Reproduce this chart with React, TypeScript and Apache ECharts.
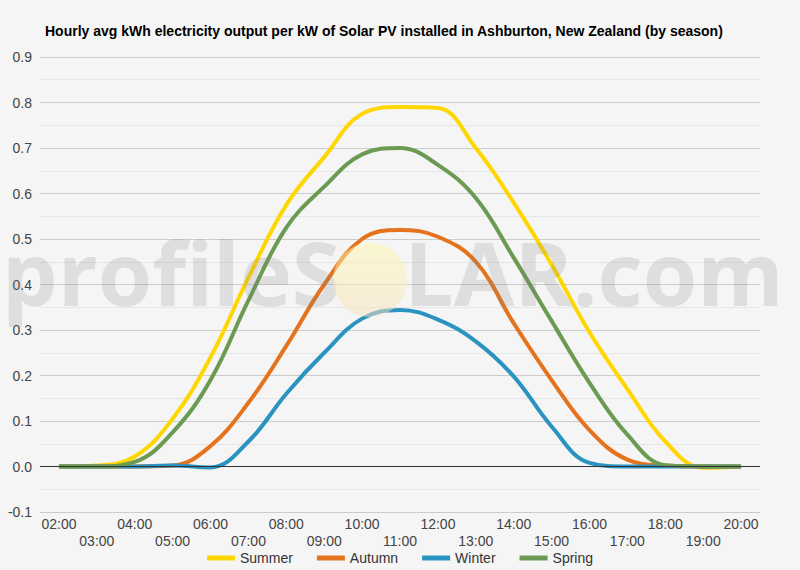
import React, { useEffect, useRef } from 'react'
import * as echarts from 'echarts'

const hours = [
  '02:00', '03:00', '04:00', '05:00', '06:00', '07:00', '08:00', '09:00', '10:00', '11:00',
  '12:00', '13:00', '14:00', '15:00', '16:00', '17:00', '18:00', '19:00', '20:00'
]

const seasonNames = ['Summer', 'Autumn', 'Winter', 'Spring']

const summer = [0, 0.002, 0.022, 0.105, 0.24, 0.415, 0.575, 0.68, 0.775, 0.79, 0.788, 0.7, 0.58, 0.444, 0.295, 0.17, 0.055, -0.003, 0]
const autumn = [0, 0, 0, 0.002, 0.045, 0.14, 0.265, 0.4, 0.5, 0.52, 0.505, 0.45, 0.315, 0.19, 0.08, 0.015, 0.002, 0, 0]
const winter = [0, 0, 0, 0.002, -0.002, 0.055, 0.16, 0.25, 0.325, 0.344, 0.323, 0.275, 0.198, 0.088, 0.008, 0, 0, 0, 0]
const spring = [0, 0, 0.01, 0.075, 0.19, 0.365, 0.525, 0.615, 0.686, 0.7, 0.663, 0.59, 0.459, 0.32, 0.184, 0.07, 0.003, 0, 0]

const seasonValues = [summer, autumn, winter, spring]
const seasonColors = ['#FFD700', '#E5731E', '#2B93C0', '#6B9A52']

const App: React.FC = () => {
  const chartRef = useRef<HTMLDivElement>(null)

  useEffect(() => {
    if (!chartRef.current) return
    const chart = echarts.init(chartRef.current, null, { renderer: 'svg' })

    const markFont = 'bold 88px "Open Sans", sans-serif'
    const markFill = 'rgba(128,128,128,0.2)'

    const option: echarts.EChartsOption = {
      animation: false,
      backgroundColor: '#f5f5f5',
      textStyle: { fontFamily: '"Liberation Sans", Arial, sans-serif' },
      title: {
        text: 'Hourly avg kWh electricity output per kW of Solar PV installed in Ashburton, New Zealand (by season)',
        left: 40,
        top: 19,
        textStyle: { fontSize: 14, fontWeight: 'bold', color: '#000' }
      },
      grid: { left: 40, right: 40, top: 57, bottom: 58 },
      legend: {
        top: 551,
        left: 'center',
        padding: 0,
        icon: 'rect',
        itemWidth: 28,
        itemHeight: 5,
        itemGap: 24,
        textStyle: { fontSize: 14, color: '#333' },
        data: seasonNames
      },
      xAxis: {
        type: 'category',
        data: hours,
        boundaryGap: true,
        axisLine: { show: false },
        axisTick: { show: false },
        axisLabel: {
          interval: 0,
          color: '#444',
          fontSize: 14,
          lineHeight: 17,
          margin: 3,
          formatter: (v: string, i: number) => (i % 2 ? '\n' + v : v)
        }
      },
      yAxis: {
        type: 'value',
        min: -0.1,
        max: 0.9,
        interval: 0.1,
        axisLine: { show: false },
        axisTick: { show: false },
        axisLabel: {
          color: '#444',
          fontSize: 14,
          margin: 8,
          formatter: (v: number) => v.toFixed(1)
        },
        splitLine: { lineStyle: { color: '#cccccc' } },
        minorTick: { show: false, splitNumber: 2 },
        minorSplitLine: { show: true, lineStyle: { color: '#e6e6e6' } }
      },
      series: seasonNames.map((name, k) => ({
        name,
        type: 'line',
        data: seasonValues[k],
        smooth: 0.4,
        symbol: 'none',
        lineStyle: { width: 4, color: seasonColors[k] },
        itemStyle: { color: seasonColors[k] },
        z: 3,
        markLine: k === 0 ? {
          silent: true,
          symbol: 'none',
          label: { show: false },
          lineStyle: { color: '#333', width: 1, type: 'solid' },
          data: [{ yAxis: 0 }]
        } : undefined
      })),
      graphic: [
        {
          type: 'text',
          left: 2,
          top: 228,
          z: 100,
          silent: true,
          style: { text: 'profileS', font: markFont, fill: markFill }
        },
        {
          type: 'circle',
          z: 100,
          silent: true,
          shape: { cx: 370, cy: 280, r: 37 },
          style: {
            fill: new echarts.graphic.LinearGradient(0, 0, 0, 1, [
              { offset: 0, color: 'rgba(255,248,170,0.5)' },
              { offset: 1, color: 'rgba(250,225,190,0.5)' }
            ])
          }
        },
        {
          type: 'text',
          left: 404,
          top: 228,
          z: 100,
          silent: true,
          style: { text: 'LAR.com', font: markFont, fill: markFill }
        }
      ]
    }

    chart.setOption(option)
    return () => {
      chart.dispose()
    }
  }, [])

  return (
    <div
      ref={chartRef}
      style={{ position: 'fixed', left: 0, top: 0, width: '800px', height: '570px' }}
    />
  )
}

export default App
